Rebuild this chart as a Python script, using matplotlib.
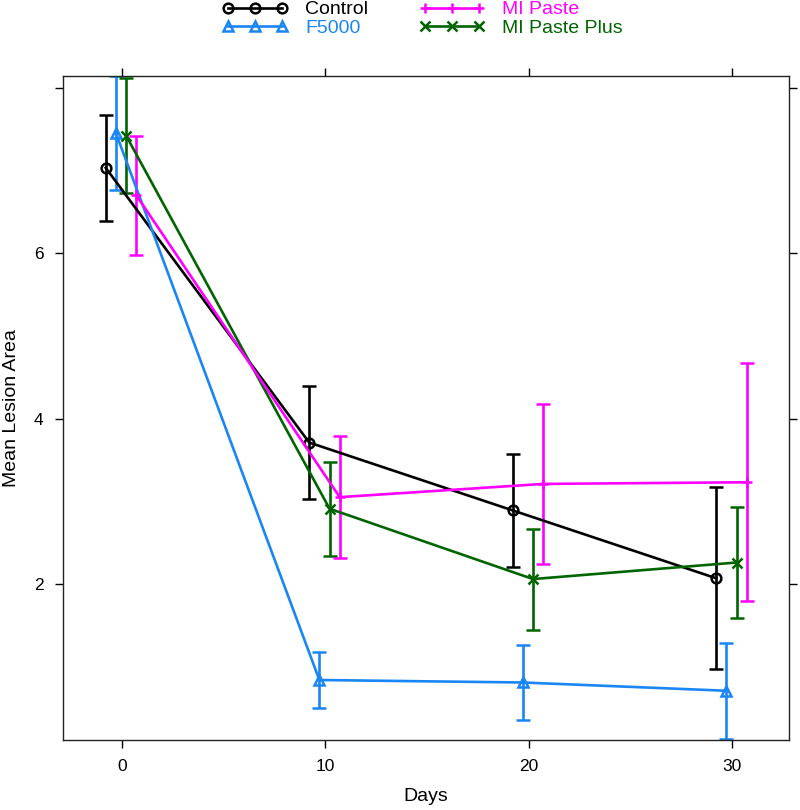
import numpy as np
import matplotlib
matplotlib.use("Agg")
from matplotlib import pyplot as plt

plt.rcParams['font.family'] = ['Liberation Sans', 'DejaVu Sans']

days = [0, 10, 20, 30]
groups = ["Control", "F5000", "MI Paste Plus", "MI Paste"]

control_mean = [7.03, 3.71, 2.89, 2.07]
control_err = [0.64, 0.68, 0.68, 1.10]
f5000_mean = [7.45, 0.84, 0.81, 0.71]
f5000_err = [0.69, 0.34, 0.45, 0.58]
plus_mean = [7.42, 2.91, 2.06, 2.26]
plus_err = [0.70, 0.57, 0.61, 0.67]
paste_mean = [6.70, 3.05, 3.21, 3.23]
paste_err = [0.72, 0.74, 0.97, 1.44]

means = [control_mean, f5000_mean, plus_mean, paste_mean]
errs = [control_err, f5000_err, plus_err, paste_err]
colors = ["black", "#1a86f5", "#006400", "#ff00ff"]
markers = ["o", "^", "x", "+"]
dodge = np.linspace(-0.8, 0.7, 4)

fig = plt.figure(figsize=(8, 8.1), dpi=100)
ax = fig.add_axes([63/800, 70/810, 726/800, 664/810])

handles = {}
for i in range(4):
    x = np.array(days) + dodge[i]
    eb = ax.errorbar(x, means[i], yerr=errs[i], color=colors[i], lw=1.9,
                     elinewidth=1.9, capsize=5, capthick=1.9,
                     marker=markers[i], ms=7, mew=1.8, mfc='none')
    handles[groups[i]] = eb[0]

ax.set_xlim(-2.9, 32.78)
ax.set_ylim(0.115, 8.14)
ax.set_xticks([0, 10, 20, 30])
ax.set_yticks([2, 4, 6, 8])
ax.set_yticklabels(["2", "4", "6", ""])
ax.tick_params(direction='out', length=6, width=1, labelsize=12.5,
               top=True, right=True, pad=8)
for s in ax.spines.values():
    s.set_linewidth(1)
    s.set_color('#222222')

ax.set_xlabel("Days", fontsize=14, labelpad=10)
ax.set_ylabel("Mean Lesion Area", fontsize=14, labelpad=10)

order = ["Control", "F5000", "MI Paste", "MI Paste Plus"]
leg_colors = {"Control": "black", "F5000": "#1a86f5",
              "MI Paste": "#ff00ff", "MI Paste Plus": "#006400"}
leg = fig.legend([handles[k] for k in order], order, ncol=2, numpoints=3,
                 loc='upper center', bbox_to_anchor=(0.528, 1.011), frameon=False,
                 fontsize=14, handlelength=3.4, handletextpad=0.9,
                 columnspacing=2.6, labelspacing=0.05, borderpad=0)
for t in leg.get_texts():
    t.set_color(leg_colors[t.get_text()])

fig.savefig("out.png", dpi=100)
